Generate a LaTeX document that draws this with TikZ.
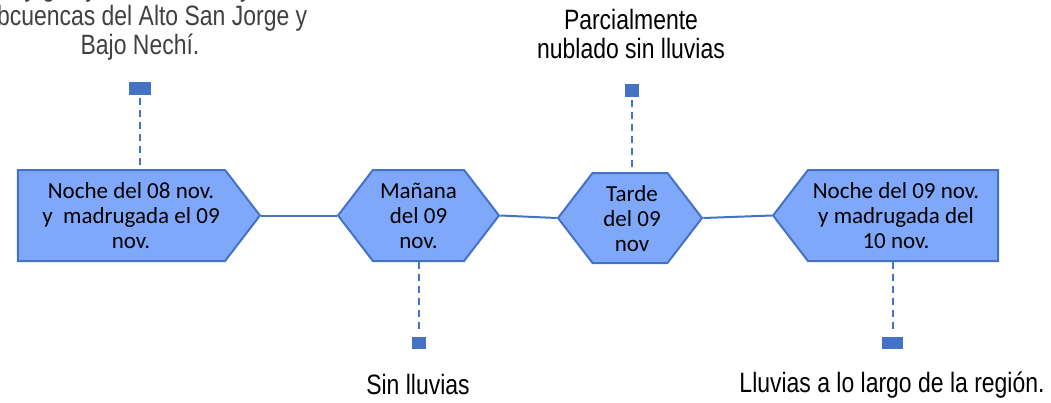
\documentclass[tikz,border=0pt]{standalone}
\usepackage{fontspec}
\setmainfont{Liberation Sans}
\newfontfamily\boxfont{Carlito}
\newfontfamily\notefont{Liberation Sans}[FakeStretch=0.82]
\usepackage{tikz}
\usetikzlibrary{shapes.symbols}
\definecolor{frameblue}{HTML}{4472C4}
\definecolor{fillblue}{HTML}{7FA8FA}
\definecolor{notegray}{HTML}{404040}
\newcommand\stagelines[2]{\hspace*{#1}\raisebox{-3pt}[\height][\depth]{\begin{tabular}{@{}c@{}}#2\end{tabular}}}

\begin{document}
\begin{tikzpicture}[x=1pt,y=-1pt,
        stage/.style={signal, draw=frameblue, fill=fillblue, line width=2pt, inner sep=0pt,
          signal pointer angle=105, minimum height=91pt,
          font=\boxfont\fontsize{23}{25}\selectfont},
        link/.style={draw=frameblue, line width=2pt},
        stem/.style={draw=frameblue, line width=2pt, dash pattern=on 7pt off 5pt},
        pin/.style={fill=frameblue, inner sep=0pt},
        note/.style={align=center, inner sep=0pt, font=\notefont\fontsize{28}{29}\selectfont}]
        \useasboundingbox (0,0) rectangle (1051,402);

        \node[stage, signal to=east, minimum width=242pt] (nightA) at (121.5,215.5) {\stagelines{19pt}{Noche del 08 nov.\\y~ madrugada el 09\\nov.}};
        \node[stage, signal to=east and west, minimum width=161pt] (morning) at (418.5,215.5) {\stagelines{0pt}{Mañana\\del 09\\nov.}};
        \node[stage, signal to=east and west, minimum width=144pt, minimum height=90pt] (afternoon) at (630,218) {\stagelines{4pt}{Tarde\\del 09\\nov}};
        \node[stage, signal to=west, minimum width=225pt] (nightB) at (903,215.5) {\stagelines{-14pt}{Noche del 09 nov.\\y madrugada del\\10 nov.}};

        \draw[link] (nightA.east) -- (morning.west);
        \draw[link] (morning.east) -- (afternoon.west);
        \draw[link] (afternoon.east) -- (nightB.west);

        \node[pin, minimum width=22pt, minimum height=13pt] (pinA) at (140,88.5) {};
        \node[pin, minimum width=14pt, minimum height=12pt] (pinB) at (419,343) {};
        \node[pin, minimum width=14pt, minimum height=13pt] (pinC) at (632,90.5) {};
        \node[pin, minimum width=21pt, minimum height=12pt] (pinD) at (892.5,343) {};

        \draw[stem, shorten <=3pt] (pinA) -- (pinA |- nightA.north);
        \draw[stem, shorten >=3pt] (morning.south -| pinB) -- (pinB);
        \draw[stem, shorten <=3pt] (pinC) -- (pinC |- afternoon.north);
        \draw[stem, shorten >=3pt] (nightB.south -| pinD) -- (pinD);

        \node[note, text=notegray] (noteA) at (140,18) {muy gris y lluvias leves, y las\\subcuencas del Alto San Jorge y\\Bajo Nechí.};
        \node[note] (noteC) at (631,33.5) {Parcialmente\\nublado sin lluvias};
        \node[note] (noteB) at (418,384) {Sin lluvias};
        \node[note] (noteD) at (892,385) {Lluvias a lo largo de la región.};
    \end{tikzpicture}
\end{document}
